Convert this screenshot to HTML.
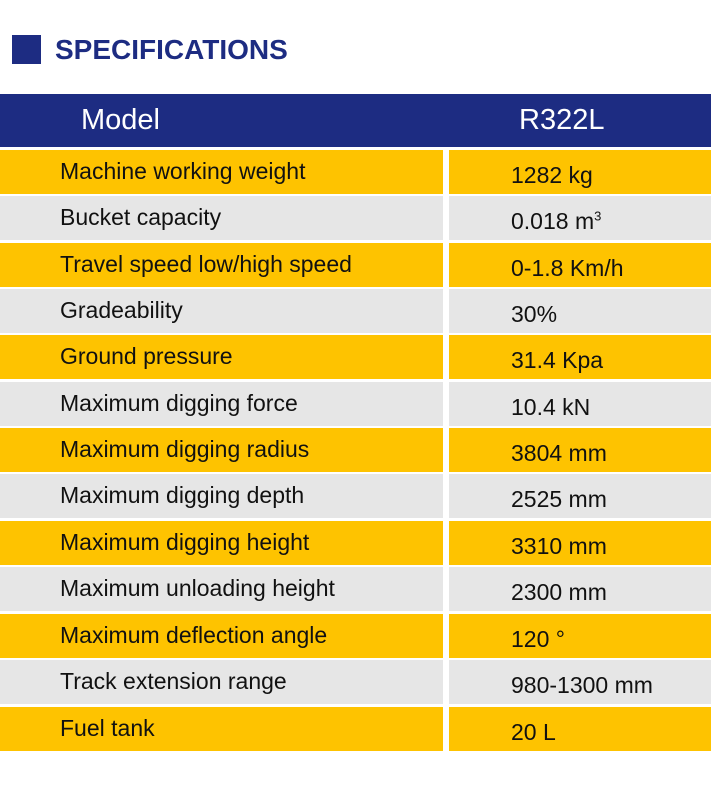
<!DOCTYPE html>
<html><head><meta charset="utf-8"><style>
*{margin:0;padding:0;box-sizing:border-box}
body{width:711px;height:800px;background:#fff;font-family:"Liberation Sans",sans-serif;position:relative;overflow:hidden}
.sq{position:absolute;left:12px;top:35px;width:29px;height:29px;background:#1d2c82}
.title{position:absolute;left:55px;top:33px;font-size:28px;font-weight:bold;color:#1d2c82;line-height:34px;letter-spacing:0px}
.hdr{position:absolute;left:0;top:94px;width:711px;height:53px;background:#1d2c82;color:#fff;font-size:29px;line-height:53px}
.hdr span{position:absolute}
.row{position:absolute;left:0;width:711px;height:44px;font-size:23px;color:#111}
.row div{position:absolute;top:0;height:44px;white-space:nowrap}
.l{left:0;width:443px;padding-left:60px;line-height:42px}
.r{left:449px;width:262px;padding-left:62px;line-height:50px}
sup{line-height:0;font-size:13px}
.y div{background:#fec300}
.g div{background:#e6e6e6}
</style></head><body>
<div class="sq"></div>
<div class="title">SPECIFICATIONS</div>
<div class="hdr"><span style="left:81px">Model</span><span style="left:519px">R322L</span></div>
<div class="row y" style="top:150px"><div class="l">Machine working weight</div><div class="r">1282 kg</div></div>
<div class="row g" style="top:196px"><div class="l">Bucket capacity</div><div class="r">0.018 m<sup>3</sup></div></div>
<div class="row y" style="top:243px"><div class="l">Travel speed low/high speed</div><div class="r">0-1.8 Km/h</div></div>
<div class="row g" style="top:289px"><div class="l">Gradeability</div><div class="r">30%</div></div>
<div class="row y" style="top:335px"><div class="l">Ground pressure</div><div class="r">31.4 Kpa</div></div>
<div class="row g" style="top:382px"><div class="l">Maximum digging force</div><div class="r">10.4 kN</div></div>
<div class="row y" style="top:428px"><div class="l">Maximum digging radius</div><div class="r">3804 mm</div></div>
<div class="row g" style="top:474px"><div class="l">Maximum digging depth</div><div class="r">2525 mm</div></div>
<div class="row y" style="top:521px"><div class="l">Maximum digging height</div><div class="r">3310 mm</div></div>
<div class="row g" style="top:567px"><div class="l">Maximum unloading height</div><div class="r">2300 mm</div></div>
<div class="row y" style="top:614px"><div class="l">Maximum deflection angle</div><div class="r">120 °</div></div>
<div class="row g" style="top:660px"><div class="l">Track extension range</div><div class="r">980-1300 mm</div></div>
<div class="row y" style="top:707px"><div class="l">Fuel tank</div><div class="r">20 L</div></div>
</body></html>
